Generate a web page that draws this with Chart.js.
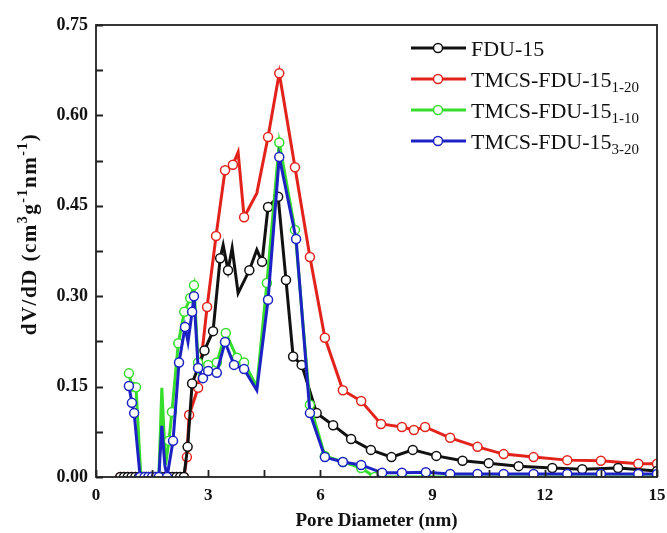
<!DOCTYPE html>
<html>
<head>
<meta charset="utf-8">
<script src="https://cdn.jsdelivr.net/npm/chart.js@4.4.1/dist/chart.umd.min.js"></script>
<style>
  body { margin: 0; background: #fff; }
  canvas { display: block; }
</style>
</head>
<body>
<canvas id="myChart" width="667" height="533"></canvas>
<script>
// pore size distribution
const fduX = [0.65, 0.75, 0.85, 0.95, 1.05, 1.15, 1.25, 1.35, 1.45, 1.55, 1.65, 1.75, 1.85, 1.95, 2.05, 2.15, 2.25,
    2.35, 2.45, 2.57, 2.9, 3.13, 3.32, 3.4, 3.53, 3.64, 3.8, 4.1, 4.3, 4.44, 4.6, 4.87, 5.08, 5.27, 5.5, 5.9,
    6.34, 6.82, 7.35, 7.9, 8.47, 9.1, 9.8, 10.5, 11.3, 12.2, 13.0, 13.96, 15.0];
const fduY = [0, 0, 0, 0, 0, 0, 0, 0, 0, 0, 0, 0, 0, 0, 0, 0, 0,
    0, 0.05, 0.155, 0.21, 0.242, 0.363, 0.385, 0.343, 0.38, 0.305, 0.343, 0.377, 0.357, 0.448, 0.465, 0.327, 0.2, 0.186, 0.106,
    0.086, 0.063, 0.045, 0.033, 0.045, 0.035, 0.027, 0.023, 0.018, 0.015, 0.013, 0.015, 0.01];

const t120X = [0.65, 0.75, 0.85, 0.95, 1.05, 1.15, 1.25, 1.35, 1.45, 1.55, 1.65, 1.75, 1.85, 1.95, 2.05, 2.15, 2.25, 2.35,
    2.43, 2.49, 2.73, 2.97, 3.21, 3.45, 3.66, 3.8, 3.96, 4.3, 4.6, 4.9, 5.32, 5.72, 6.12, 6.6, 7.09, 7.62,
    8.18, 8.5, 8.8, 9.47, 10.2, 10.9, 11.7, 12.6, 13.5, 14.5, 15.0];
const t120Y = [0, 0, 0, 0, 0, 0, 0, 0, 0, 0, 0, 0, 0, 0, 0, 0, 0, 0,
    0.033, 0.103, 0.148, 0.282, 0.4, 0.509, 0.518, 0.539, 0.431, 0.471, 0.564, 0.67, 0.514, 0.365, 0.231, 0.144, 0.126, 0.088,
    0.083, 0.078, 0.083, 0.065, 0.05, 0.038, 0.033, 0.028, 0.027, 0.022, 0.022];

const t110X = [0.88, 0.96, 1.07, 1.2, 1.3, 1.4, 1.5, 1.6, 1.68, 1.76, 1.86, 1.95, 2.03, 2.2, 2.36, 2.52, 2.62, 2.73,
    2.86, 3.0, 3.23, 3.47, 3.77, 3.96, 4.3, 4.57, 4.9, 5.32, 5.72, 6.12, 6.6, 7.09, 7.45, 8.18, 8.82, 9.47, 10.2,
    10.9, 11.7, 12.6, 13.5, 14.5, 15.0];
const t110Y = [0.172, 0.15, 0.149, 0, 0, 0, 0, 0, 0, 0.148, 0.02, 0.06, 0.108, 0.222, 0.274, 0.297, 0.318, 0.19,
    0.17, 0.186, 0.19, 0.239, 0.198, 0.19, 0.15, 0.322, 0.555, 0.41, 0.12, 0.035, 0.025, 0.015, 0, 0, 0, 0, 0,
    0, 0, 0, 0, 0, 0];

const t320X = [0.88, 0.96, 1.02, 1.18, 1.3, 1.4, 1.5, 1.6, 1.68, 1.76, 1.84, 1.9, 2.06, 2.22, 2.38, 2.46, 2.57, 2.62,
    2.73, 2.86, 3.0, 3.23, 3.45, 3.69, 3.96, 4.3, 4.6, 4.9, 5.35, 5.72, 6.12, 6.6, 7.09, 7.65, 8.18, 8.82, 9.47,
    10.2, 10.9, 11.7, 12.6, 13.5, 14.5, 15.0];
const t320Y = [0.151, 0.123, 0.106, 0, 0, 0, 0, 0, 0, 0.085, 0.02, 0, 0.06, 0.19, 0.249, 0.224, 0.274, 0.3,
    0.181, 0.164, 0.176, 0.173, 0.224, 0.186, 0.179, 0.144, 0.294, 0.531, 0.395, 0.106, 0.033, 0.025, 0.02, 0.007, 0.007, 0.008, 0.005,
    0.005, 0.005, 0.005, 0.005, 0.005, 0.005, 0.005];

const xTickLabels = ['0', '3', '6', '9', '12', '15'];
const yTickLabels = ['0.00', '0.15', '0.30', '0.45', '0.60', '0.75'];

const legendItems = [
    { main: 'FDU-15', sub: '', color: '#111111' },
    { main: 'TMCS-FDU-15', sub: '1-20', color: '#e3231b' },
    { main: 'TMCS-FDU-15', sub: '1-10', color: '#36dd2c' },
    { main: 'TMCS-FDU-15', sub: '3-20', color: '#1c22c4' }
];

// peaks drawn without a marker
const unmarked = [3.4, 3.64, 4.3, 3.8, 1.76, 1.84, 1.86, 2.46];

function toPoints(xs, ys) {
    return xs.map((x, i) => ({ x: x, y: ys[i] }));
}

function makeSet(label, xs, ys, color, order) {
    return {
        label: label,
        data: toPoints(xs, ys),
        borderColor: color,
        borderWidth: 3,
        pointBackgroundColor: '#fff',
        pointBorderColor: color,
        pointBorderWidth: 1.5,
        pointRadius: c => (c.raw && unmarked.includes(c.raw.x)) ? 0 : 4.5,
        tension: 0,
        order: order
    };
}

const serif = '"Liberation Serif", "Times New Roman", serif';

const framePlugin = {
    id: 'frame',
    afterDraw(chart) {
        const { ctx, chartArea: a } = chart;
        const xs = chart.scales.x, ys = chart.scales.y;
        ctx.save();
        ctx.strokeStyle = '#222';
        ctx.lineWidth = 1.8;
        ctx.strokeRect(a.left, a.top, a.right - a.left, a.bottom - a.top);
        ctx.beginPath();
        xs.ticks.forEach(t => {
            const px = Math.round(xs.getPixelForValue(t.value)) + 0.5;
            ctx.moveTo(px, a.bottom);
            ctx.lineTo(px, a.bottom - 7);
        });
        ys.ticks.forEach(t => {
            const py = Math.round(ys.getPixelForValue(t.value)) + 0.5;
            ctx.moveTo(a.left, py);
            ctx.lineTo(a.left + 7, py);
        });
        ctx.stroke();

        // legend
        legendItems.forEach((it, i) => {
            const yc = 48 + i * 31;
            ctx.strokeStyle = it.color;
            ctx.lineWidth = 3;
            ctx.beginPath();
            ctx.moveTo(411, yc);
            ctx.lineTo(466, yc);
            ctx.stroke();
            ctx.beginPath();
            ctx.arc(438, yc, 4.5, 0, Math.PI * 2);
            ctx.fillStyle = '#fff';
            ctx.fill();
            ctx.lineWidth = 1.5;
            ctx.stroke();
            ctx.fillStyle = '#111';
            ctx.textBaseline = 'alphabetic';
            ctx.textAlign = 'left';
            ctx.font = '22px ' + serif;
            ctx.fillText(it.main, 471, yc + 8);
            if (it.sub) {
                const w = ctx.measureText(it.main).width;
                ctx.font = '15px ' + serif;
                ctx.fillText(it.sub, 471 + w, yc + 13);
            }
        });

        // y title with superscripts
        const parts = [
            ['dV/dD (cm', false], ['3', true], ['g', false], ['-1', true],
            ['nm', false], ['-1', true], [')', false]
        ];
        const bigFont = 'bold 21px ' + serif, smallFont = 'bold 14px ' + serif;
        ctx.letterSpacing = '1.5px';
        let total = 0;
        parts.forEach(p => {
            ctx.font = p[1] ? smallFont : bigFont;
            total += ctx.measureText(p[0]).width;
        });
        ctx.translate(29, 234);
        ctx.rotate(-Math.PI / 2);
        let cx = -total / 2;
        parts.forEach(p => {
            ctx.font = p[1] ? smallFont : bigFont;
            ctx.fillText(p[0], cx, p[1] ? -2 : 7);
            cx += ctx.measureText(p[0]).width;
        });
        ctx.setTransform(1, 0, 0, 1, 0, 0);
        ctx.letterSpacing = '0px';

        // x title
        ctx.font = 'bold 19px ' + serif;
        ctx.textAlign = 'center';
        ctx.fillText('Pore Diameter (nm)', (a.left + a.right) / 2, 526);
        ctx.restore();
    }
};

const ctx = document.getElementById('myChart').getContext('2d');

const chartInstance = new Chart(ctx, {
    type: 'line',
    data: {
        datasets: [
            makeSet('FDU-15', fduX, fduY, legendItems[0].color, 3),
            makeSet('TMCS-FDU-15 1-20', t120X, t120Y, legendItems[1].color, 4),
            makeSet('TMCS-FDU-15 1-10', t110X, t110Y, legendItems[2].color, 2),
            makeSet('TMCS-FDU-15 3-20', t320X, t320Y, legendItems[3].color, 1)
        ]
    },
    options: {
        responsive: false,
        animation: false,
        layout: { padding: { top: 25, right: 10, left: 0, bottom: 0 } },
        plugins: { legend: { display: false }, tooltip: { enabled: false } },
        scales: {
            x: {
                type: 'linear',
                min: 0,
                max: 15,
                grid: { display: false },
                border: { display: false },
                afterFit: s => { s.height = 56; },
                ticks: {
                    stepSize: 1.5,
                    autoSkip: false,
                    maxRotation: 0,
                    padding: 0,
                    color: '#111',
                    font: { family: serif, size: 17, weight: 'bold' },
                    callback: v => {
                        const k = Math.round(v / 1.5);
                        return k % 2 === 0 ? xTickLabels[k / 2] : '';
                    }
                }
            },
            y: {
                min: 0,
                max: 0.75,
                grid: { display: false },
                border: { display: false },
                afterFit: s => { s.width = 96; },
                ticks: {
                    stepSize: 0.075,
                    autoSkip: false,
                    padding: 0,
                    color: '#111',
                    font: { family: serif, size: 18, weight: 'bold' },
                    callback: v => {
                        const k = Math.round(v / 0.075);
                        return k % 2 === 0 ? yTickLabels[k / 2] : '';
                    }
                }
            }
        }
    },
    plugins: [framePlugin]
});
</script>
</body>
</html>
